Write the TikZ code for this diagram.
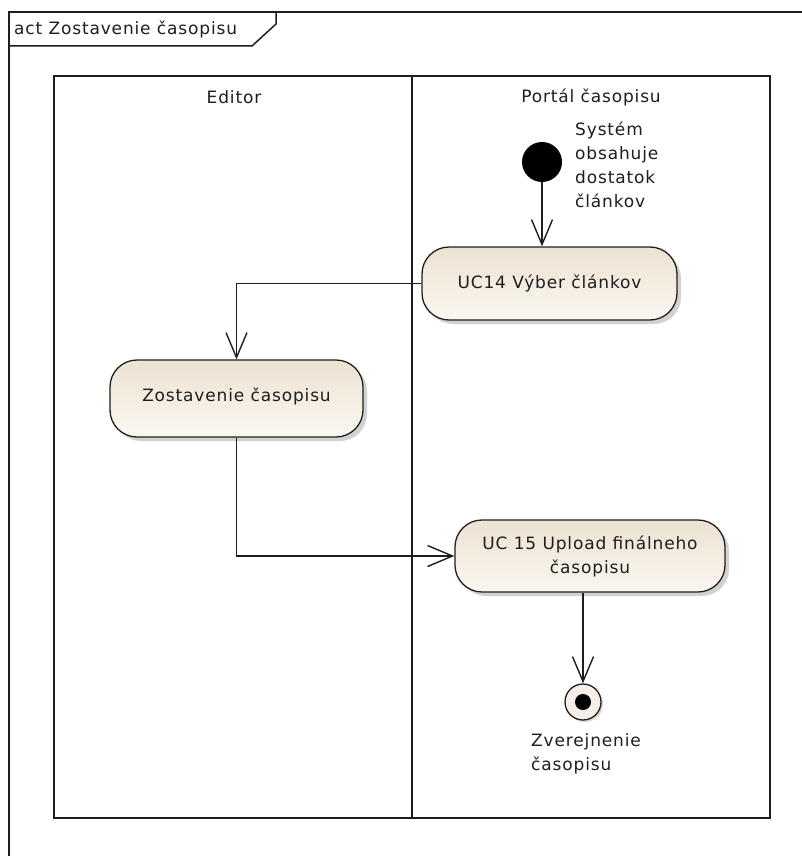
\documentclass[tikz,border=0pt]{standalone}
\usepackage{fontspec}
\setmainfont{DejaVu Sans}[LetterSpace=5]
\usetikzlibrary{arrows.meta,shadows}
\definecolor{boxtop}{RGB}{236,226,210}
\definecolor{boxbot}{RGB}{251,247,240}
\definecolor{ink}{RGB}{30,30,30}
\definecolor{finalfill}{RGB}{246,238,232}
\begin{document}
\begin{tikzpicture}[x=1pt,y=-1pt,
  every node/.style={font=\fontsize{17}{24}\selectfont, text=ink},
  frameline/.style={draw=ink, line width=1.5pt},
  activity/.style={draw=ink, line width=1.3pt, rounded corners=27pt,
     top color=boxtop, bottom color=boxbot, align=center,
     drop shadow={shadow xshift=4pt, shadow yshift=-4pt, opacity=0.35, fill=gray}},
  flow/.style={draw=ink, line width=1.4pt,
     -{Straight Barb[length=25pt,width=21pt,line width=1.4pt]}},
  lbl/.style={align=left, inner sep=0pt}
]
\useasboundingbox (0,0) rectangle (802,856);
\fill[white] (0,0) rectangle (802,856);
\clip (0,0) rectangle (802,856);

% outer frame and tab
\draw[frameline] (9,880) -- (9,12) -- (820,12);
\draw[frameline] (9,46) -- (252,46) -- (276,24) -- (276,12);
\node[anchor=west, inner sep=0pt] (title) at (14,29) {act Zostavenie časopisu};

% swimlanes
\draw[frameline] (54,76) rectangle (412,818);
\draw[frameline] (412,76) rectangle (770,818);
\node (editorhdr) at (234,97) {Editor};
\node (portalhdr) at (591,97) {Portál časopisu};

% initial node
\node[circle, fill=black, minimum size=40pt, inner sep=0pt] (start) at (542,162) {};
\node[lbl, anchor=north west] (startlbl) at (575,122) {Systém\\obsahuje\\dostatok\\článkov};

% activities
\node[activity, minimum width=255pt, minimum height=73pt] (uc14) at (549.5,283.5) {\raisebox{4pt}{UC14 Výber článkov}};
\node[activity, minimum width=253pt, minimum height=77pt] (zost) at (236.5,398.5) {\raisebox{8pt}{Zostavenie časopisu}};
\node[activity, minimum width=270pt, minimum height=72pt] (uc15) at (590,556) {UC 15 Upload finálneho\\časopisu};

% final node
\node[circle, draw=ink, line width=1.3pt, fill=finalfill, minimum size=36pt, inner sep=0pt,
  drop shadow={shadow xshift=2pt, shadow yshift=-2pt, opacity=0.3, fill=gray}] (final) at (583,702) {};
\node[circle, fill=black, minimum size=16pt, inner sep=0pt] (finaldot) at (final.center) {};
\node[lbl, anchor=north west] (finallbl) at (531,733) {Zverejnenie\\časopisu};

% connectors
\draw[flow] (start.south) -- (start.south |- uc14.north);
\draw[flow] (uc14.west) -| (zost.north);
\draw[flow] (zost.south) |- (uc15.west);
\draw[flow] (final.north |- uc15.south) -- (final.north);
\end{tikzpicture}
\end{document}
